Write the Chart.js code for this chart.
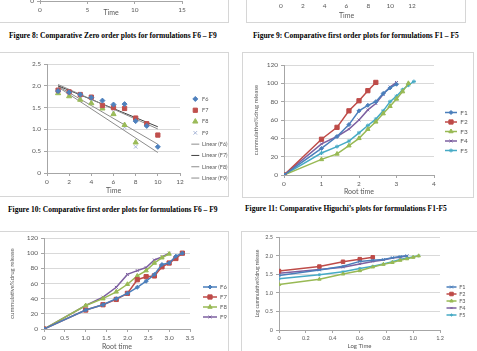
<!DOCTYPE html>
<html>
<head>
<meta charset="utf-8">
<script src="https://cdn.jsdelivr.net/npm/chart.js@4.4.1/dist/chart.umd.min.js"></script>
<style>
  html, body { margin: 0; padding: 0; background: #fff; }
  body { width: 477px; height: 351px; overflow: hidden; position: relative; }
  .panel { position: absolute; box-shadow: inset 0 0 0 1px #d6d6d6; }
  .cap { position: absolute; font: bold 7.5px "Liberation Serif", "Times New Roman", serif; color: #000; white-space: nowrap; }
</style>
</head>
<body>
<div class="panel" style="left:-1px;top:-128px;width:230px;height:151px"><canvas id="c8"></canvas></div>
<div class="panel" style="left:246px;top:-128px;width:220px;height:151px"><canvas id="c9"></canvas></div>
<div class="cap" style="left:9px;top:31px">Figure 8: Comparative Zero order plots for formulations F6 – F9</div>
<div class="cap" style="left:253px;top:31px">Figure 9: Comparative first order plots for formulations F1 – F5</div>

<div class="panel" style="left:-1px;top:52px;width:230px;height:145px"><canvas id="c10"></canvas></div>
<div class="panel" style="left:242px;top:52px;width:232px;height:146px"><canvas id="c11"></canvas></div>
<div class="cap" style="left:8px;top:205px">Figure 10: Comparative first order plots for formulations F6 – F9</div>
<div class="cap" style="left:245px;top:204px">Figure 11: Comparative Higuchi’s plots for formulations F1-F5</div>

<div class="panel" style="left:-1px;top:231px;width:230px;height:130px"><canvas id="c12"></canvas></div>
<div class="panel" style="left:241px;top:231px;width:237px;height:130px"><canvas id="c13"></canvas></div>

<script>
// ---- data ----
// first order plot (fig 10): log % remaining vs time
const foTime = [1, 2, 3, 4, 5, 6, 7, 8, 9, 10];
const foF6 = [1.88, 1.85, 1.80, 1.73, 1.66, 1.57, 1.58, 1.19, 1.08, 0.60];
const foF7 = [1.90, 1.86, 1.80, 1.74, 1.55, 1.50, 1.48, 1.26, 1.13, 0.87];
const foF8 = [1.83, 1.76, 1.68, 1.60, 1.48, 1.35, 1.10, 0.70];
const foF9 = [1.85, 1.79, 1.71, 1.64, 1.52, 1.40, 1.05, 0.60];
// trendline end points (x = 1 and x = 10)
const trendX = [1, 10];
const linF6 = [2.03, 1.01];
const linF7 = [2.00, 1.06];
const linF8 = [1.99, 0.66];
const linF9 = [1.97, 0.47];

// Higuchi plots: cumulative % release vs root time
const rootTime = [0, 1, 1.414, 1.732, 2, 2.236, 2.449, 2.646, 2.828, 3, 3.162, 3.317, 3.464];
const hF1 = [0, 29, 42, 55, 70, 76, 80, 89, 95, 99];
const hF2 = [0, 39, 52, 70, 81, 92, 101];
const hF3 = [0, 17, 23, 32, 40, 50, 58, 67, 75, 83, 91, 100];
const hF4 = [0, 34, 42, 50, 60, 71, 78, 88, 96, 101];
const hF5 = [0, 24, 31, 37, 46, 54, 61, 70, 80, 86, 93, 98, 102];
const hF6 = [0, 25, 32, 40, 47, 55, 63, 72, 85, 87, 96, 100];
const hF7 = [0, 25, 32, 39, 47, 65, 69, 70, 82, 87, 93, 100];
const hF8 = [0, 31, 40, 49, 59, 70, 77, 87, 94, 99];
const hF9 = [0, 31, 42, 55, 72, 77, 81, 91, 95, 100];

// Korsmeyer plot: log cumulative % release vs log time
const logTime = [0, 0.301, 0.477, 0.602, 0.699, 0.778, 0.845, 0.903, 0.954, 1.0, 1.041];
const kF1 = [1.47, 1.62, 1.72, 1.85, 1.88, 1.90, 1.95, 1.98, 2.00];
const kF2 = [1.59, 1.71, 1.84, 1.91, 1.96];
const kF3 = [1.23, 1.37, 1.51, 1.60, 1.70, 1.77, 1.82, 1.88, 1.92, 1.96, 2.00];
const kF4 = [1.53, 1.63, 1.69, 1.78, 1.85, 1.89, 1.94, 1.96, 2.00];
const kF5 = [1.38, 1.49, 1.57, 1.66, 1.72, 1.78, 1.84, 1.90, 1.94, 1.97, 2.00];

// Excel 2007 palette
const BLUE = "#4a7ebb";
const RED = "#be4b48";
const GREEN = "#98b954";
const PURPLE = "#7d60a0";
const CYAN = "#46aac5";
const GRID = "#d9d9d9";
const AXIS = "#a6a6a6";
const TEXT = "#595959";
const FONT = "Lato, 'Open Sans', sans-serif";

Chart.defaults.font.family = FONT;
Chart.defaults.color = TEXT;

function pts(xs, ys) {
  return ys.map((y, i) => ({ x: xs[i], y }));
}

function line(label, xs, ys, color, style, r) {
  return {
    label, data: pts(xs, ys), showLine: true,
    borderColor: color, backgroundColor: color, borderWidth: 1.5,
    pointStyle: style, pointRadius: r, pointBorderWidth: 1,
  };
}

function marks(label, xs, ys, color, style, r) {
  return {
    label, data: pts(xs, ys), showLine: false,
    borderColor: color, backgroundColor: color, borderWidth: 1,
    pointStyle: style, pointRadius: r, pointBorderWidth: 1,
  };
}

function trend(label, ys, color) {
  return {
    label, data: pts(trendX, ys), showLine: true,
    borderColor: color, backgroundColor: color, borderWidth: 1,
    pointStyle: "line", pointRadius: 0,
  };
}

// Excel style legend keys: short line with the marker on top
const legendKeys = {
  id: "legendKeys",
  afterDraw(chart) {
    const lg = chart.legend;
    if (!lg || !lg.options.display || !lg.legendHitBoxes) return;
    const ctx = chart.ctx;
    const w = lg.options.labels.pointStyleWidth || 10;
    lg.legendItems.forEach((it, i) => {
      const ds = chart.data.datasets[it.datasetIndex];
      const b = lg.legendHitBoxes[i];
      if (!b) return;
      const cx = b.left + w / 2;
      const cy = b.top + b.height / 2;
      ctx.save();
      if (ds.showLine) {
        ctx.strokeStyle = ds.borderColor;
        ctx.lineWidth = ds.borderWidth;
        ctx.beginPath();
        ctx.moveTo(b.left, cy);
        ctx.lineTo(b.left + w, cy);
        ctx.stroke();
      }
      if (ds.pointRadius > 0) {
        ctx.fillStyle = ds.backgroundColor;
        ctx.strokeStyle = ds.borderColor;
        ctx.lineWidth = 1;
        Chart.helpers.drawPoint(ctx, { pointStyle: ds.pointStyle, radius: ds.pointRadius, rotation: 0, borderWidth: 1 }, cx, cy);
      }
      ctx.restore();
    });
  },
};

// fixed legend width + small nudge, so the plot area lands where Excel put it
const legendBox = {
  id: "legendBox",
  beforeLayout(chart, args, opts) {
    const lg = chart.legend;
    if (!lg || lg._patched || !opts.width) return;
    const fit = lg.fit;
    lg.fit = function () {
      fit.call(this);
      this.width = opts.width;
    };
    lg._patched = true;
  },
  afterLayout(chart, args, opts) {
    const lg = chart.legend;
    if (!lg) return;
    const dx = opts.dx || 0;
    const dy = opts.dy || 0;
    lg.left += dx; lg.right += dx;
    lg.top += dy; lg.bottom += dy;
  },
};

function hiddenKeys(chart) {
  const items = Chart.defaults.plugins.legend.labels.generateLabels(chart);
  items.forEach((it) => {
    it.fillStyle = "rgba(0,0,0,0)";
    it.strokeStyle = "rgba(0,0,0,0)";
    it.lineWidth = 0;
  });
  return items;
}

function makeChart(id, datasets, o) {
  const tickFont = { size: o.tick || 6.5 };
  const lg = o.legend || {};
  return new Chart(document.getElementById(id), {
    type: "scatter",
    data: { datasets },
    plugins: [legendKeys, legendBox],
    options: {
      responsive: true,
      maintainAspectRatio: false,
      animation: false,
      layout: { padding: o.pad },
      plugins: {
        tooltip: { enabled: false },
        legendBox: { width: lg.width, dx: lg.dx, dy: lg.dy },
        legend: {
          display: !!o.legend,
          position: "right",
          labels: {
            usePointStyle: true,
            pointStyleWidth: lg.boxW || 12,
            boxHeight: 4,
            padding: lg.pad || 4,
            font: { size: lg.font || 6.5 },
            color: TEXT,
            generateLabels: hiddenKeys,
          },
        },
      },
      scales: {
        x: {
          type: "linear",
          min: o.xMin, max: o.xMax,
          ticks: { stepSize: o.xStep, font: tickFont, padding: 2, maxRotation: 0 },
          grid: { drawOnChartArea: false, tickLength: 3, color: AXIS },
          border: { color: AXIS },
          title: { display: !!o.xTitle, text: o.xTitle, font: { size: o.titleSize || 7 }, padding: { top: 0, bottom: o.xTitlePad || 0 } },
          afterFit: (s) => { s.height = o.xH; },
        },
        y: {
          min: o.yMin, max: o.yMax,
          ticks: { stepSize: o.yStep, font: tickFont, padding: 3 },
          grid: { color: GRID, tickLength: 3, tickColor: AXIS },
          border: { color: AXIS },
          title: { display: !!o.yTitle, text: o.yTitle, font: { size: o.yTitleSize || 6 }, padding: 0 },
          afterFit: (s) => { s.width = o.yW; },
        },
      },
    },
  });
}

// Figure 8 (only the bottom strip is on the page)
makeChart("c8", [], {
  pad: { left: 0, right: 47, top: 10, bottom: 1 },
  xMin: 0, xMax: 15, xStep: 5, xTitle: "Time", xH: 21, xTitlePad: 5,
  yMin: 0, yMax: 120, yStep: 20, yW: 41,
});

// Figure 9 (only the bottom strip is on the page)
makeChart("c9", [], {
  pad: { left: 0, right: 54, top: 10, bottom: 1 },
  xMin: 0, xMax: 12, xStep: 2, xTitle: "Time", xH: 25, xTitlePad: 2,
  yMin: 0, yMax: 2.5, yStep: 0.5, yW: 35,
});

// Figure 10
makeChart("c10", [
  marks("F6", foTime, foF6, "#4f81bd", "rectRot", 2.5),
  marks("F7", foTime, foF7, "#c0504d", "rect", 3),
  marks("F8", foTime, foF8, "#9bbb59", "triangle", 3),
  marks("F9", foTime, foF9, "#a5b4d6", "crossRot", 2.5),
  trend("Linear (F6)", linF6, "#8c8c8c"),
  trend("Linear (F7)", linF7, "#404040"),
  trend("Linear (F8)", linF8, "#8c8c8c"),
  trend("Linear (F9)", linF9, "#8c8c8c"),
], {
  pad: { left: 0, right: 0, top: 12, bottom: 2 },
  xMin: 0, xMax: 12, xStep: 2, xTitle: "Time", xH: 22,
  yMin: 0, yMax: 2.5, yStep: 0.5, yW: 48,
  legend: { width: 49, dx: 5.5, dy: 9, pad: 5.8, boxW: 8, font: 5.5 },
});

// Figure 11
makeChart("c11", [
  line("F1", rootTime, hF1, BLUE, "rectRot", 2),
  line("F2", rootTime, hF2, RED, "rect", 3),
  line("F3", rootTime, hF3, GREEN, "triangle", 2.5),
  line("F4", rootTime, hF4, PURPLE, "crossRot", 2),
  line("F5", rootTime, hF5, CYAN, "star", 2),
], {
  pad: { left: 10, right: 0, top: 13, bottom: 2 },
  xMin: 0, xMax: 4, xStep: 1, xTitle: "Root time", xH: 21,
  yMin: 0, yMax: 120, yStep: 20, yW: 32, yTitle: "cummulative%drug release",
  legend: { width: 40, dx: 8, dy: 1, pad: 3, boxW: 12 },
});

// Higuchi F6 - F9
makeChart("c12", [
  line("F6", rootTime, hF6, BLUE, "rectRot", 2),
  line("F7", rootTime, hF7, RED, "rect", 3),
  line("F8", rootTime, hF8, GREEN, "triangle", 2.5),
  line("F9", rootTime, hF9, PURPLE, "crossRot", 2),
], {
  pad: { left: 9, right: 0, top: 7, bottom: 10 },
  xMin: 0, xMax: 3.5, xStep: 0.5, xTitle: "Root time", xH: 22,
  yMin: 0, yMax: 120, yStep: 20, yW: 36, yTitle: "cummulative%drug release",
  legend: { width: 39, dx: 9, dy: 7.5, pad: 4, boxW: 14, font: 6 },
});

// Korsmeyer F1 - F5
makeChart("c13", [
  line("F1", logTime, kF1, BLUE, "crossRot", 2),
  line("F2", logTime, kF2, RED, "rect", 2.5),
  line("F3", logTime, kF3, GREEN, "triangle", 2),
  line("F4", logTime, kF4, PURPLE, "crossRot", 1.5),
  line("F5", logTime, kF5, CYAN, "star", 1.5),
], {
  tick: 5.5, titleSize: 6, yTitleSize: 5,
  pad: { left: 13, right: 0, top: 6, bottom: 11 },
  xMin: 0, xMax: 1.2, xStep: 0.2, xTitle: "Log Time", xH: 20,
  yMin: 0, yMax: 2.5, yStep: 0.5, yW: 25, yTitle: "Log cummulative%drug release",
  legend: { width: 38, dx: 5, dy: 7.5, pad: 1.5, boxW: 10, font: 5.5 },
});
</script>
</body>
</html>
